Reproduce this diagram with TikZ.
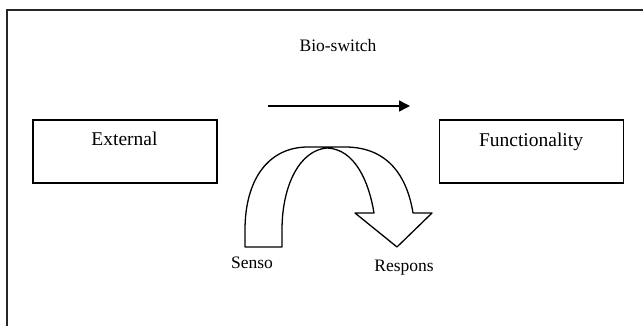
\documentclass[tikz,border=0pt]{standalone}
\usepackage{fontspec}
\setmainfont{Liberation Serif}
\usetikzlibrary{arrows.meta}
\begin{document}
\begin{tikzpicture}[x=1pt,y=-1pt,
  boxstyle/.style={draw,line width=1.6pt,minimum width=184pt,minimum height=63pt,inner sep=0pt},
  lbl/.style={anchor=base,inner sep=0pt,font=\fontsize{17.5}{20}\selectfont},
  boxlbl/.style={anchor=base,inner sep=0pt,font=\fontsize{19.5}{22}\selectfont},
  curv/.style={line width=1.3pt,line join=round}]
\useasboundingbox (0,0) rectangle (643,326);
% frame
\draw[line width=2.4pt,black!85] (7,330) -- (7,10) -- (647,10);
% boxes
\node[boxstyle] (ext) at (125,151.5) {};
\node[boxstyle] (fun) at (531.5,151.5) {};
\node[boxlbl] (extt) at (124.5,146) {External};
\node[boxlbl] (funt) at (531,147) {Functionality};
% bio-switch
\node[lbl] (bio) at (338,52) {Bio-switch};
\coordinate (a1) at (268,106);
\coordinate (a2) at (410,106);
\draw[line width=1.5pt,-{Triangle[length=11pt,width=11pt]}] (a1) -- (a2);
% curved arrow
\coordinate (ol) at (245,247);
\coordinate (il) at (282,247);
\coordinate (ie) at (374,213);
\coordinate (oe) at (413,213);
\coordinate (hl) at (355,213);
\coordinate (hr) at (432,213);
\coordinate (tip) at (397,247);
\draw[curv] (ol) -- (245,230) .. controls (245,180) and (268,147) .. (308,147)
  -- (345,147) .. controls (392,147) and (408,182) .. (oe) -- (hr) -- (tip) -- (hl) -- (ie)
  .. controls (369,182) and (355,149) .. (327,148)
  .. controls (300,150) and (282,185) .. (282,230) -- (il) -- cycle;
\node[lbl] (senso) at (252,268) {Senso};
\node[lbl] (resp) at (404,271) {Respons};
\end{tikzpicture}
\end{document}
